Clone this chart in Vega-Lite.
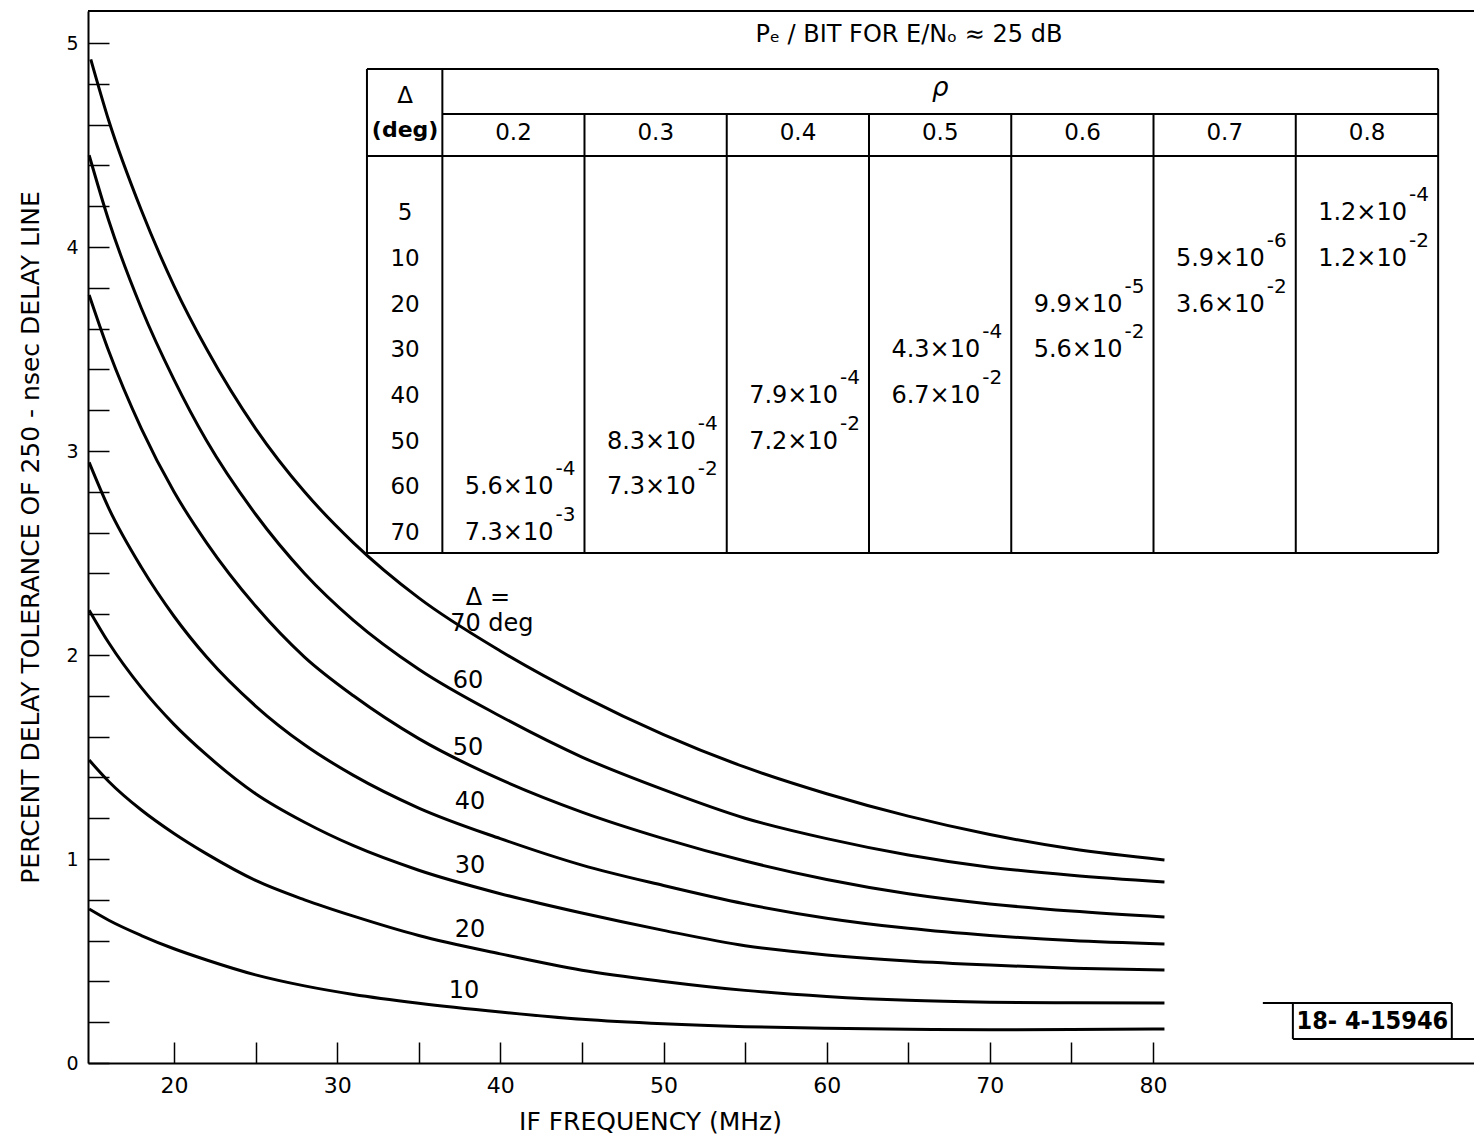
{
  "$schema": "https://vega.github.io/schema/vega-lite/v6.json",
  "width": 1386,
  "height": 1052,
  "autosize": {"type": "none"},
  "padding": {"left": 88, "top": 11, "right": 0, "bottom": 73},
  "background": "white",
  "config": {"view": {"stroke": null}, "font": "DejaVu Sans", "text": {"font": "DejaVu Sans", "color": "black"}},
  "datasets": {
    "curves": [
      {"delta": 70, "freq": 14.9, "tol": 4.92}, {"delta": 70, "freq": 16, "tol": 4.62}, {"delta": 70, "freq": 18, "tol": 4.18}, {"delta": 70, "freq": 20, "tol": 3.81}, {"delta": 70, "freq": 22, "tol": 3.50}, {"delta": 70, "freq": 25, "tol": 3.11}, {"delta": 70, "freq": 28, "tol": 2.80}, {"delta": 70, "freq": 31, "tol": 2.55}, {"delta": 70, "freq": 35, "tol": 2.28}, {"delta": 70, "freq": 40, "tol": 2.02}, {"delta": 70, "freq": 45, "tol": 1.80}, {"delta": 70, "freq": 50, "tol": 1.61}, {"delta": 70, "freq": 55, "tol": 1.45}, {"delta": 70, "freq": 60, "tol": 1.32}, {"delta": 70, "freq": 65, "tol": 1.21}, {"delta": 70, "freq": 70, "tol": 1.12}, {"delta": 70, "freq": 75, "tol": 1.05}, {"delta": 70, "freq": 80.7, "tol": 0.995},
      {"delta": 60, "freq": 14.8, "tol": 4.45}, {"delta": 60, "freq": 16, "tol": 4.13}, {"delta": 60, "freq": 18, "tol": 3.70}, {"delta": 60, "freq": 20, "tol": 3.35}, {"delta": 60, "freq": 22, "tol": 3.05}, {"delta": 60, "freq": 25, "tol": 2.69}, {"delta": 60, "freq": 28, "tol": 2.40}, {"delta": 60, "freq": 31, "tol": 2.17}, {"delta": 60, "freq": 35, "tol": 1.93}, {"delta": 60, "freq": 40, "tol": 1.70}, {"delta": 60, "freq": 45, "tol": 1.50}, {"delta": 60, "freq": 50, "tol": 1.34}, {"delta": 60, "freq": 55, "tol": 1.20}, {"delta": 60, "freq": 60, "tol": 1.10}, {"delta": 60, "freq": 65, "tol": 1.02}, {"delta": 60, "freq": 70, "tol": 0.96}, {"delta": 60, "freq": 75, "tol": 0.92}, {"delta": 60, "freq": 80.7, "tol": 0.887},
      {"delta": 50, "freq": 14.8, "tol": 3.765}, {"delta": 50, "freq": 16, "tol": 3.49}, {"delta": 50, "freq": 18, "tol": 3.11}, {"delta": 50, "freq": 20, "tol": 2.80}, {"delta": 50, "freq": 22, "tol": 2.55}, {"delta": 50, "freq": 25, "tol": 2.24}, {"delta": 50, "freq": 28, "tol": 1.99}, {"delta": 50, "freq": 31, "tol": 1.80}, {"delta": 50, "freq": 35, "tol": 1.59}, {"delta": 50, "freq": 40, "tol": 1.39}, {"delta": 50, "freq": 45, "tol": 1.23}, {"delta": 50, "freq": 50, "tol": 1.10}, {"delta": 50, "freq": 55, "tol": 0.99}, {"delta": 50, "freq": 60, "tol": 0.90}, {"delta": 50, "freq": 65, "tol": 0.83}, {"delta": 50, "freq": 70, "tol": 0.78}, {"delta": 50, "freq": 75, "tol": 0.745}, {"delta": 50, "freq": 80.7, "tol": 0.716},
      {"delta": 40, "freq": 14.8, "tol": 2.944}, {"delta": 40, "freq": 16, "tol": 2.72}, {"delta": 40, "freq": 18, "tol": 2.43}, {"delta": 40, "freq": 20, "tol": 2.19}, {"delta": 40, "freq": 22, "tol": 1.99}, {"delta": 40, "freq": 25, "tol": 1.75}, {"delta": 40, "freq": 28, "tol": 1.56}, {"delta": 40, "freq": 31, "tol": 1.41}, {"delta": 40, "freq": 35, "tol": 1.25}, {"delta": 40, "freq": 40, "tol": 1.10}, {"delta": 40, "freq": 45, "tol": 0.97}, {"delta": 40, "freq": 50, "tol": 0.87}, {"delta": 40, "freq": 55, "tol": 0.78}, {"delta": 40, "freq": 60, "tol": 0.71}, {"delta": 40, "freq": 65, "tol": 0.66}, {"delta": 40, "freq": 70, "tol": 0.625}, {"delta": 40, "freq": 75, "tol": 0.60}, {"delta": 40, "freq": 80.7, "tol": 0.583},
      {"delta": 30, "freq": 14.8, "tol": 2.22}, {"delta": 30, "freq": 16, "tol": 2.06}, {"delta": 30, "freq": 18, "tol": 1.84}, {"delta": 30, "freq": 20, "tol": 1.66}, {"delta": 30, "freq": 22, "tol": 1.51}, {"delta": 30, "freq": 25, "tol": 1.32}, {"delta": 30, "freq": 28, "tol": 1.18}, {"delta": 30, "freq": 31, "tol": 1.065}, {"delta": 30, "freq": 35, "tol": 0.945}, {"delta": 30, "freq": 40, "tol": 0.83}, {"delta": 30, "freq": 45, "tol": 0.735}, {"delta": 30, "freq": 50, "tol": 0.65}, {"delta": 30, "freq": 55, "tol": 0.575}, {"delta": 30, "freq": 60, "tol": 0.53}, {"delta": 30, "freq": 65, "tol": 0.50}, {"delta": 30, "freq": 70, "tol": 0.48}, {"delta": 30, "freq": 75, "tol": 0.465}, {"delta": 30, "freq": 80.7, "tol": 0.456},
      {"delta": 20, "freq": 14.8, "tol": 1.485}, {"delta": 20, "freq": 16, "tol": 1.38}, {"delta": 20, "freq": 18, "tol": 1.24}, {"delta": 20, "freq": 20, "tol": 1.125}, {"delta": 20, "freq": 22, "tol": 1.025}, {"delta": 20, "freq": 25, "tol": 0.895}, {"delta": 20, "freq": 28, "tol": 0.80}, {"delta": 20, "freq": 31, "tol": 0.72}, {"delta": 20, "freq": 35, "tol": 0.625}, {"delta": 20, "freq": 40, "tol": 0.535}, {"delta": 20, "freq": 45, "tol": 0.455}, {"delta": 20, "freq": 50, "tol": 0.40}, {"delta": 20, "freq": 55, "tol": 0.356}, {"delta": 20, "freq": 60, "tol": 0.326}, {"delta": 20, "freq": 65, "tol": 0.307}, {"delta": 20, "freq": 70, "tol": 0.298}, {"delta": 20, "freq": 75, "tol": 0.295}, {"delta": 20, "freq": 80.7, "tol": 0.294},
      {"delta": 10, "freq": 14.8, "tol": 0.755}, {"delta": 10, "freq": 16, "tol": 0.70}, {"delta": 10, "freq": 18, "tol": 0.625}, {"delta": 10, "freq": 20, "tol": 0.56}, {"delta": 10, "freq": 22, "tol": 0.505}, {"delta": 10, "freq": 25, "tol": 0.432}, {"delta": 10, "freq": 28, "tol": 0.378}, {"delta": 10, "freq": 31, "tol": 0.336}, {"delta": 10, "freq": 35, "tol": 0.293}, {"delta": 10, "freq": 40, "tol": 0.25}, {"delta": 10, "freq": 45, "tol": 0.214}, {"delta": 10, "freq": 50, "tol": 0.192}, {"delta": 10, "freq": 55, "tol": 0.178}, {"delta": 10, "freq": 60, "tol": 0.17}, {"delta": 10, "freq": 65, "tol": 0.165}, {"delta": 10, "freq": 70, "tol": 0.163}, {"delta": 10, "freq": 75, "tol": 0.164}, {"delta": 10, "freq": 80.7, "tol": 0.167}
    ],
    "curveLabels": [
      {"label": "Δ =", "freq": 39.24, "tol": 2.28},
      {"label": "70 deg", "freq": 39.48, "tol": 2.152},
      {"label": "60", "freq": 38.02, "tol": 1.873},
      {"label": "50", "freq": 38.02, "tol": 1.544},
      {"label": "40", "freq": 38.14, "tol": 1.279},
      {"label": "30", "freq": 38.14, "tol": 0.966},
      {"label": "20", "freq": 38.14, "tol": 0.652},
      {"label": "10", "freq": 37.77, "tol": 0.353}
    ],
    "table": [
      {"rho": 0.2, "delta": 60, "mant": "5.6×10", "exp": "-4"},
      {"rho": 0.2, "delta": 70, "mant": "7.3×10", "exp": "-3"},
      {"rho": 0.3, "delta": 50, "mant": "8.3×10", "exp": "-4"},
      {"rho": 0.3, "delta": 60, "mant": "7.3×10", "exp": "-2"},
      {"rho": 0.4, "delta": 40, "mant": "7.9×10", "exp": "-4"},
      {"rho": 0.4, "delta": 50, "mant": "7.2×10", "exp": "-2"},
      {"rho": 0.5, "delta": 30, "mant": "4.3×10", "exp": "-4"},
      {"rho": 0.5, "delta": 40, "mant": "6.7×10", "exp": "-2"},
      {"rho": 0.6, "delta": 20, "mant": "9.9×10", "exp": "-5"},
      {"rho": 0.6, "delta": 30, "mant": "5.6×10", "exp": "-2"},
      {"rho": 0.7, "delta": 10, "mant": "5.9×10", "exp": "-6"},
      {"rho": 0.7, "delta": 20, "mant": "3.6×10", "exp": "-2"},
      {"rho": 0.8, "delta": 5, "mant": "1.2×10", "exp": "-4"},
      {"rho": 0.8, "delta": 10, "mant": "1.2×10", "exp": "-2"}
    ],
    "deltaRows": [{"delta": 5}, {"delta": 10}, {"delta": 20}, {"delta": 30}, {"delta": 40}, {"delta": 50}, {"delta": 60}, {"delta": 70}],
    "rhoHeaders": [{"rho": 0.2, "label": "0.2"}, {"rho": 0.3, "label": "0.3"}, {"rho": 0.4, "label": "0.4"}, {"rho": 0.5, "label": "0.5"}, {"rho": 0.6, "label": "0.6"}, {"rho": 0.7, "label": "0.7"}, {"rho": 0.8, "label": "0.8"}],
    "one": [{}]
  },
  "layer": [
    {
      "layer": [
        {
          "data": {"name": "curves"},
          "mark": {"type": "line", "color": "black", "strokeWidth": 3, "interpolate": "monotone"},
          "encoding": {
            "x": {
              "field": "freq", "type": "quantitative",
              "scale": {"domain": [14.73, 99.67], "nice": false, "zero": false},
              "axis": {
                "title": "IF FREQUENCY (MHz)",
                "values": [20, 25, 30, 35, 40, 45, 50, 55, 60, 65, 70, 75, 80],
                "format": "d",
                "labelExpr": "datum.value % 10 == 0 ? datum.label : ''",
                "tickSize": -21, "tickWidth": 1.5, "tickColor": "black",
                "domainColor": "black", "domainWidth": 2,
                "labelPadding": 33, "labelFontSize": 22, "labelColor": "black", "labelOverlap": false, "labelFlush": false,
                "grid": false,
                "titleFontSize": 25, "titleFontWeight": "normal", "titleColor": "black",
                "titleX": 562, "titleY": 46, "titleBaseline": "top", "titleAlign": "center"
              }
            },
            "y": {
              "field": "tol", "type": "quantitative",
              "scale": {"domain": [0, 5.157], "nice": false, "zero": false},
              "axis": {
                "title": "PERCENT DELAY TOLERANCE OF 250 - nsec DELAY LINE",
                "values": [0, 0.2, 0.4, 0.6, 0.8, 1, 1.2, 1.4, 1.6, 1.8, 2, 2.2, 2.4, 2.6, 2.8, 3, 3.2, 3.4, 3.6, 3.8, 4, 4.2, 4.4, 4.6, 4.8, 5],
                "format": ".0f",
                "labelExpr": "datum.value % 1 == 0 ? datum.label : ''",
                "tickSize": -21, "tickWidth": 1.5, "tickColor": "black",
                "domainColor": "black", "domainWidth": 2,
                "labelPadding": 31, "labelFontSize": 19, "labelColor": "black", "labelOverlap": false, "labelFlush": false,
                "grid": false,
                "titleFontSize": 25, "titleFontWeight": "normal", "titleColor": "black",
                "titleX": -58, "titleY": 526, "titleAngle": -90, "titleBaseline": "middle", "titleAlign": "center"
              }
            },
            "detail": {"field": "delta", "type": "nominal"}
          }
        },
        {
          "data": {"name": "curveLabels"},
          "mark": {"type": "text", "fontSize": 24, "align": "center", "baseline": "middle", "color": "black"},
          "encoding": {
            "x": {"field": "freq", "type": "quantitative"},
            "y": {"field": "tol", "type": "quantitative"},
            "text": {"field": "label"}
          }
        },
        {
          "data": {"name": "one"},
          "mark": {"type": "rule", "color": "black", "strokeWidth": 2},
          "encoding": {"y": {"datum": 5.157, "type": "quantitative"}}
        },
        {
          "data": {"name": "one"},
          "mark": {"type": "rule", "color": "black", "strokeWidth": 2},
          "encoding": {"x": {"datum": 86.73, "type": "quantitative"}, "x2": {"datum": 98.31}, "y": {"datum": 0.294, "type": "quantitative"}}
        },
        {
          "data": {"name": "one"},
          "mark": {"type": "rule", "color": "black", "strokeWidth": 2},
          "encoding": {"x": {"datum": 88.57, "type": "quantitative"}, "x2": {"datum": 99.67}, "y": {"datum": 0.118, "type": "quantitative"}}
        },
        {
          "data": {"name": "one"},
          "mark": {"type": "rule", "color": "black", "strokeWidth": 2},
          "encoding": {"x": {"datum": 88.57, "type": "quantitative"}, "y": {"datum": 0.118, "type": "quantitative"}, "y2": {"datum": 0.294}}
        },
        {
          "data": {"name": "one"},
          "mark": {"type": "rule", "color": "black", "strokeWidth": 2},
          "encoding": {"x": {"datum": 98.31, "type": "quantitative"}, "y": {"datum": 0.118, "type": "quantitative"}, "y2": {"datum": 0.294}}
        },
        {
          "data": {"name": "one"},
          "mark": {"type": "text", "text": "18- 4-15946", "font": "Liberation Sans Narrow, DejaVu Sans Condensed, DejaVu Sans", "fontWeight": "bold", "fontSize": 25, "align": "center", "baseline": "middle", "color": "black"},
          "encoding": {"x": {"datum": 93.44, "type": "quantitative"}, "y": {"datum": 0.206, "type": "quantitative"}}
        }
      ]
    },
    {
      "layer": [
        {
          "data": {"name": "table"},
          "mark": {"type": "text", "align": "right", "baseline": "middle", "fontSize": 24, "xOffset": 40, "color": "black"},
          "encoding": {
            "x": {"field": "rho", "type": "quantitative", "scale": {"domain": [-0.0991, 0.8752], "nice": false, "zero": false}, "axis": null},
            "y": {"field": "delta", "type": "quantitative", "scale": {"domain": [5, 10, 70], "range": [202, 248, 522], "nice": false, "zero": false}, "axis": null},
            "text": {"field": "mant"}
          }
        },
        {
          "data": {"name": "table"},
          "mark": {"type": "text", "align": "left", "baseline": "middle", "fontSize": 20, "xOffset": 42, "dy": -18, "color": "black"},
          "encoding": {
            "x": {"field": "rho", "type": "quantitative"},
            "y": {"field": "delta", "type": "quantitative"},
            "text": {"field": "exp"}
          }
        },
        {
          "data": {"name": "deltaRows"},
          "mark": {"type": "text", "align": "center", "baseline": "middle", "fontSize": 23, "color": "black"},
          "encoding": {
            "x": {"datum": 0.1238, "type": "quantitative"},
            "y": {"field": "delta", "type": "quantitative"},
            "text": {"field": "delta"}
          }
        },
        {
          "data": {"name": "rhoHeaders"},
          "mark": {"type": "text", "align": "center", "baseline": "middle", "fontSize": 23, "color": "black"},
          "encoding": {
            "x": {"field": "rho", "type": "quantitative"},
            "y": {"datum": -3.7, "type": "quantitative"},
            "text": {"field": "label"}
          }
        },
        {
          "data": {"name": "rhoHeaders"},
          "transform": [{"filter": "datum.rho < 0.75"}],
          "mark": {"type": "rule", "color": "black", "strokeWidth": 2, "xOffset": 71},
          "encoding": {
            "x": {"field": "rho", "type": "quantitative"},
            "y": {"datum": -5.76, "type": "quantitative"},
            "y2": {"datum": 74.38}
          }
        },
        {
          "data": {"name": "one"},
          "mark": {"type": "rule", "color": "black", "strokeWidth": 2},
          "encoding": {"x": {"datum": 0.097, "type": "quantitative"}, "y": {"datum": -10.65, "type": "quantitative"}, "y2": {"datum": 74.38}}
        },
        {
          "data": {"name": "one"},
          "mark": {"type": "rule", "color": "black", "strokeWidth": 2},
          "encoding": {"x": {"datum": 0.15, "type": "quantitative"}, "y": {"datum": -10.65, "type": "quantitative"}, "y2": {"datum": 74.38}}
        },
        {
          "data": {"name": "one"},
          "mark": {"type": "rule", "color": "black", "strokeWidth": 2},
          "encoding": {"x": {"datum": 0.85, "type": "quantitative"}, "y": {"datum": -10.65, "type": "quantitative"}, "y2": {"datum": 74.38}}
        },
        {
          "data": {"name": "one"},
          "mark": {"type": "rule", "color": "black", "strokeWidth": 2},
          "encoding": {"x": {"datum": 0.097, "type": "quantitative"}, "x2": {"datum": 0.85}, "y": {"datum": -10.65, "type": "quantitative"}}
        },
        {
          "data": {"name": "one"},
          "mark": {"type": "rule", "color": "black", "strokeWidth": 2},
          "encoding": {"x": {"datum": 0.15, "type": "quantitative"}, "x2": {"datum": 0.85}, "y": {"datum": -5.76, "type": "quantitative"}}
        },
        {
          "data": {"name": "one"},
          "mark": {"type": "rule", "color": "black", "strokeWidth": 2},
          "encoding": {"x": {"datum": 0.097, "type": "quantitative"}, "x2": {"datum": 0.85}, "y": {"datum": -1.2, "type": "quantitative"}}
        },
        {
          "data": {"name": "one"},
          "mark": {"type": "rule", "color": "black", "strokeWidth": 2},
          "encoding": {"x": {"datum": 0.097, "type": "quantitative"}, "x2": {"datum": 0.85}, "y": {"datum": 74.38, "type": "quantitative"}}
        },
        {
          "data": {"name": "one"},
          "mark": {"type": "text", "text": "Δ", "fontSize": 23, "align": "center", "baseline": "middle", "color": "black"},
          "encoding": {"x": {"datum": 0.1238, "type": "quantitative"}, "y": {"datum": -7.72, "type": "quantitative"}}
        },
        {
          "data": {"name": "one"},
          "mark": {"type": "text", "text": "(deg)", "fontSize": 22, "fontWeight": "bold", "align": "center", "baseline": "middle", "color": "black"},
          "encoding": {"x": {"datum": 0.1238, "type": "quantitative"}, "y": {"datum": -4.02, "type": "quantitative"}}
        },
        {
          "data": {"name": "one"},
          "mark": {"type": "text", "text": "ρ", "fontSize": 26, "fontStyle": "italic", "align": "center", "baseline": "middle", "color": "black"},
          "encoding": {"x": {"datum": 0.5, "type": "quantitative"}, "y": {"datum": -8.59, "type": "quantitative"}}
        },
        {
          "data": {"name": "one"},
          "mark": {"type": "text", "text": "Pₑ / BIT FOR E/Nₒ ≈ 25 dB", "fontSize": 24, "align": "center", "baseline": "middle", "color": "black"},
          "encoding": {"x": {"datum": 0.478, "type": "quantitative"}, "y": {"datum": -14.35, "type": "quantitative"}}
        }
      ]
    }
  ],
  "resolve": {"scale": {"x": "independent", "y": "independent"}}
}
